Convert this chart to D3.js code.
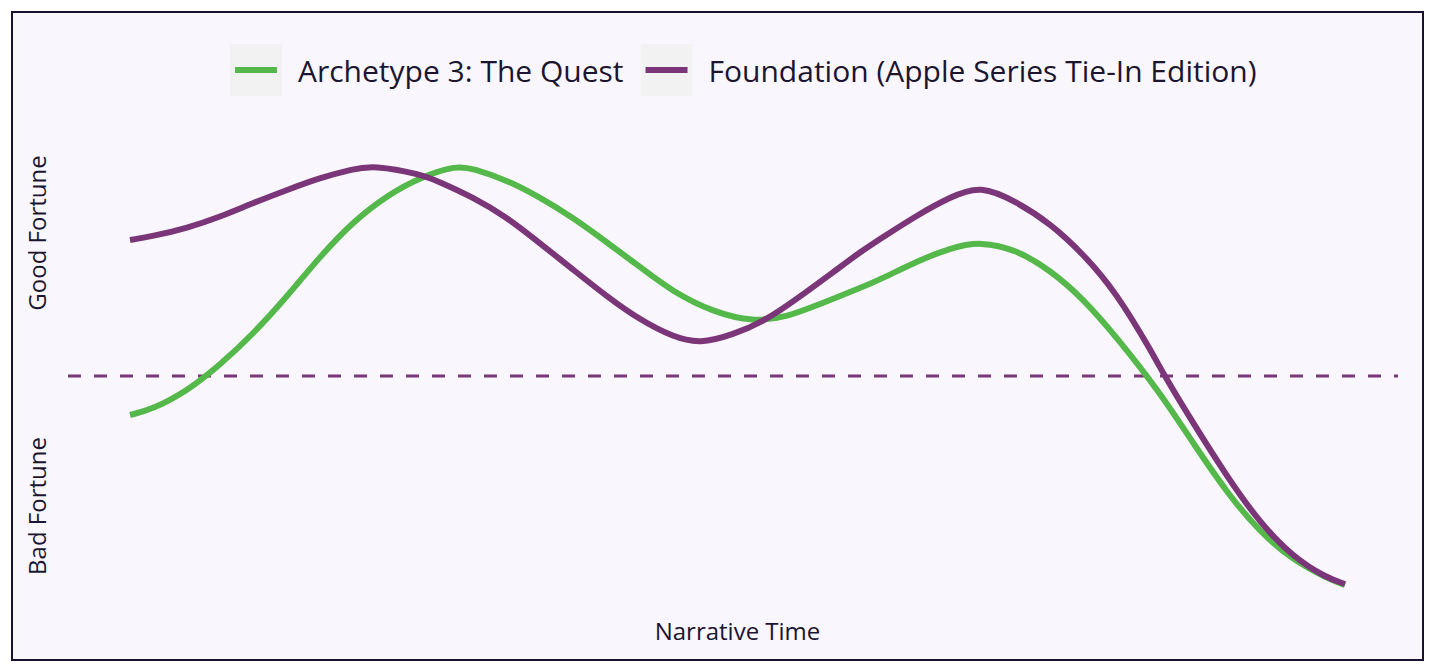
<!DOCTYPE html>
<html>
<head>
<meta charset="utf-8">
<script src="https://cdn.jsdelivr.net/npm/d3@7"></script>
<style>
  body { margin: 0; background: #ffffff; }
  svg { display: block; font-family: "Open Sans", "Noto Sans", sans-serif; }
</style>
</head>
<body>
<svg width="1436" height="672"></svg>
<script>
// series names + colours
var seriesNames = ["Archetype 3: The Quest", "Foundation (Apple Series Tie-In Edition)"]
var seriesColors = ["#55b84a", "#7b3579"]

// narrative time (0-100) and fortune values
var questT = [0, 1.9, 4.7, 7.4, 10.1, 12.9, 15.6, 18.4, 21.2, 23.9, 26.9, 28.2, 31.0, 33.7, 36.5, 39.3, 42.0, 44.7, 48.0, 51.3, 54.1, 56.8, 60.1, 62.0, 64.8, 67.5, 70.0, 73.0, 75.7, 78.4, 81.2, 84.8, 87.5, 90.3, 93.0, 95.7, 98.5, 100]
var questV = [-1.5, -1.27, -0.58, 0.42, 1.6, 3.04, 4.58, 5.96, 6.96, 7.65, 8.1, 7.98, 7.54, 6.88, 6.08, 5.12, 4.19, 3.23, 2.46, 2.08, 2.27, 2.77, 3.38, 3.77, 4.42, 4.92, 5.18, 4.85, 4.08, 3.0, 1.5, -0.65, -2.58, -4.5, -6.0, -7.08, -7.77, -8.04]

var foundT = [0, 1.9, 4.7, 7.4, 10.1, 12.9, 15.6, 18.4, 20.0, 23.9, 25.5, 28.2, 31.0, 33.7, 36.5, 39.3, 42.0, 44.7, 46.9, 49.6, 52.4, 55.1, 57.9, 60.1, 62.0, 64.8, 67.5, 70.0, 73.0, 75.7, 78.4, 81.2, 84.0, 85.3, 87.5, 90.3, 93.0, 95.7, 98.5, 100]
var foundV = [5.23, 5.38, 5.69, 6.12, 6.65, 7.15, 7.62, 7.96, 8.1, 7.77, 7.46, 6.88, 6.12, 5.12, 4.08, 3.04, 2.15, 1.5, 1.24, 1.58, 2.15, 3.04, 4.0, 4.77, 5.35, 6.19, 6.88, 7.35, 6.69, 5.88, 4.73, 3.19, 1.0, -0.12, -1.81, -3.88, -5.65, -6.96, -7.77, -8.0]

var yLabels = ["Good Fortune", "Bad Fortune"]
var yLabelAt = [5.5, -5]
var xLabel = "Narrative Time"

var svg = d3.select("svg"),
	width = +svg.attr("width"),
	height = +svg.attr("height")

var textCol = "#1b1530"

var x = d3.scaleLinear().domain([0, 100]).range([130, 1345])
var y = d3.scaleLinear().domain([-10, 10]).range([636, 116])

// frame
svg.append("rect")
	.attr("x", 12).attr("y", 12)
	.attr("width", 1411).attr("height", 648)
	.style("fill", "#f9f7fd")
	.style("stroke", "#1a1030")
	.style("stroke-width", 2)

// zero line
svg.append("line")
	.attr("x1", 68).attr("x2", 1398)
	.attr("y1", y(0)).attr("y2", y(0))
	.style("stroke", seriesColors[1])
	.style("stroke-width", 3)
	.style("stroke-dasharray", "13,13")

// basis spline smooths out the reading noise
var line = d3.line()
	.x(d => x(d[0]))
	.y(d => y(d[1]))
	.curve(d3.curveBasis)

var series = [d3.zip(questT, questV), d3.zip(foundT, foundV)]

svg.selectAll("path.series")
	.data(series)
	.enter().append("path")
	.attr("class", "series")
	.attr("d", line)
	.style("fill", "none")
	.style("stroke", (d, i) => seriesColors[i])
	.style("stroke-width", 6)

// axis titles
svg.append("text")
	.attr("x", (x.range()[0] + x.range()[1]) / 2)
	.attr("y", 640)
	.attr("text-anchor", "middle")
	.style("font-size", "24px")
	.style("fill", textCol)
	.text(xLabel)

svg.selectAll("text.ylab")
	.data(yLabels)
	.enter().append("text")
	.attr("class", "ylab")
	.attr("transform", (d, i) => "translate(46," + y(yLabelAt[i]) + ") rotate(-90)")
	.attr("text-anchor", "middle")
	.style("font-size", "24px")
	.style("fill", textCol)
	.text(d => d)

// legend
var legend = svg.append("g")
var lx = 230
seriesNames.forEach(function(name, i) {
	var g = legend.append("g").attr("transform", "translate(" + lx + ",44)")
	g.append("rect")
		.attr("width", 52).attr("height", 52)
		.style("fill", "#f2f2f2")
	g.append("line")
		.attr("x1", 5).attr("x2", 47)
		.attr("y1", 26).attr("y2", 26)
		.style("stroke", seriesColors[i])
		.style("stroke-width", 6)
	var t = g.append("text")
		.attr("x", 68).attr("y", 38)
		.style("font-size", "30px")
		.style("fill", textCol)
		.text(name)
	lx += 68 + t.node().getComputedTextLength() + 17
})
</script>
</body>
</html>
